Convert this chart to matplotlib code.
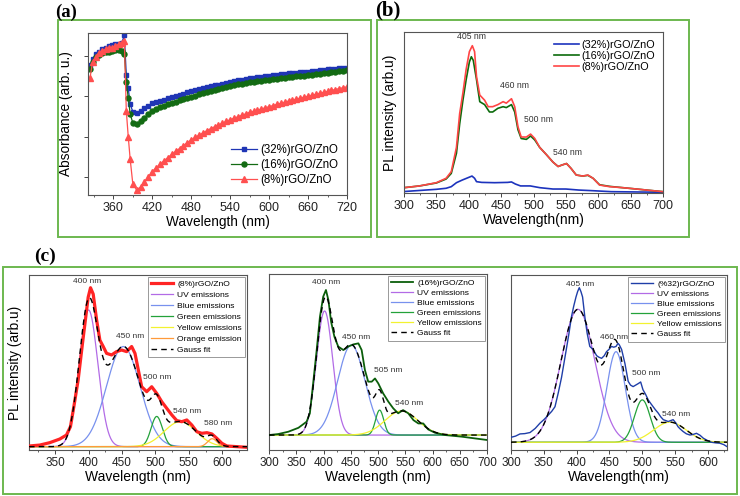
import numpy as np
import matplotlib
matplotlib.use('Agg')
import matplotlib.pyplot as plt
from matplotlib.patches import Rectangle
from matplotlib.ticker import MultipleLocator
from matplotlib.lines import Line2D

plt.rcParams['font.family'] = ['Liberation Sans', 'DejaVu Sans']

# ---------------- data: panel (a) absorbance ----------------
wl_a = [324, 328, 333, 338, 343, 348, 353, 358, 363, 368, 373, 377, 380, 383, 386, 390,
        396, 402, 408, 414, 420, 426, 432, 438, 444, 450, 456, 462, 468, 474, 480,
        486, 492, 498, 504, 510, 516, 522, 528, 534, 540, 546, 552, 558, 564, 570,
        576, 582, 588, 594, 600, 606, 612, 618, 624, 630, 636, 642, 648, 654, 660,
        666, 672, 678, 684, 690, 696, 702, 708, 714, 720]
abs_32 = [.80, .84, .87, .885, .90, .91, .92, .925, .93, .935, .94, .985, .74, .66, .56, .515,
          .505, .520, .535, .550, .565, .573, .581, .589, .597, .605, .612, .619, .626, .633, .640,
          .646, .652, .658, .664, .670, .676, .682, .688, .694, .700, .704, .708, .712, .716, .720,
          .723, .726, .729, .732, .735, .738, .741, .744, .747, .750, .752, .755, .757, .760, .762,
          .765, .767, .770, .772, .775, .777, .780, .782, .785, .787]
abs_16 = [.78, .82, .85, .865, .875, .88, .885, .89, .895, .895, .89, .87, .70, .60, .50, .445,
          .440, .455, .475, .497, .520, .531, .542, .552, .561, .570, .577, .584, .591, .598, .605,
          .613, .621, .629, .637, .645, .651, .657, .663, .669, .675, .679, .683, .687, .691, .695,
          .698, .701, .704, .707, .710, .713, .717, .720, .724, .727, .730, .732, .735, .737, .740,
          .743, .746, .749, .752, .755, .758, .761, .764, .767, .770]
abs_8 = [.72, .82, .85, .875, .89, .90, .905, .91, .92, .93, .94, .95, .52, .36, .22, .07,
         .030, .050, .080, .112, .145, .168, .190, .211, .231, .250, .269, .287, .305, .323, .340,
         .355, .369, .383, .397, .410, .421, .432, .443, .454, .465, .474, .483, .492, .501, .510,
         .517, .524, .531, .538, .545, .552, .559, .566, .573, .580, .586, .592, .598, .604, .610,
         .616, .622, .628, .634, .640, .646, .651, .657, .662, .668]
labels_a = ['(32%)rGO/ZnO', '(16%)rGO/ZnO', '(8%)rGO/ZnO']

# ---------------- data: panel (b) PL ----------------
wl_b8 = [300, 324, 350, 365, 373, 381, 386, 391, 396, 401, 405.5, 409, 412, 417, 424.5, 430, 437,
         445, 453, 458, 466, 471, 476, 481, 489, 495.5, 502, 509.5, 520, 530, 538, 544, 551,
         558, 566, 576, 584, 592, 602, 617.5, 638, 659, 679, 700]
pl_b8 = [.036, .048, .07, .10, .145, .31, .54, .68, .84, .96, 1.0, .96, .79, .665, .63, .586, .586,
         .60, .62, .61, .64, .586, .45, .38, .38, .40, .37, .31, .26, .21, .18, .19, .20,
         .167, .122, .115, .122, .10, .054, .043, .036, .027, .018, .009]
wl_b16 = [300, 324, 350, 365, 373, 381, 386, 391, 396, 401, 404, 407, 412, 417, 424.5, 432, 437,
          445, 453, 458, 466, 471, 476, 481, 489, 495.5, 502, 509.5, 520, 530, 538, 544, 551,
          558, 566, 576, 584, 592, 602, 617.5, 638, 659, 679, 700]
pl_b16 = [.036, .048, .068, .095, .133, .27, .47, .63, .77, .89, .925, .90, .77, .62, .60, .55, .55,
          .575, .586, .58, .60, .55, .43, .37, .364, .387, .36, .31, .26, .21, .18, .19, .20,
          .167, .122, .115, .12, .10, .056, .045, .036, .027, .018, .009]
wl_b32 = [300, 350, 365, 373, 381, 390, 400, 405, 409, 412, 420, 440, 460, 466, 472, 480, 495,
          510, 530, 550, 570, 590, 620, 660, 700]
pl_b32 = [.010, .025, .032, .043, .07, .088, .106, .115, .10, .077, .072, .07, .072, .075, .061,
          .048, .048, .036, .027, .027, .02, .016, .009, .007, .005]
labels_b = ['(32%)rGO/ZnO', '(16%)rGO/ZnO', '(8%)rGO/ZnO']
peaks_b = [405, 460, 500, 540]
peak_pos_b = [(405, 1.03), (471, .70), (507, .47), (553, .245)]

# ---------------- data: panel (c) deconvolution ----------------
wl_c1 = [311, 327, 342, 357, 367, 373, 378, 384.5, 391, 396, 399.5, 403, 407, 412, 417, 422, 427,
         434.5, 442, 449.5, 457, 464.5, 469.5, 474.5, 479.5, 487, 494.5, 502, 509.5, 517, 524.5,
         532, 539.5, 547, 554.5, 562, 569.5, 577, 584.5, 592, 599.5, 607, 637]
pl_c1 = [.004, .01, .025, .048, .073, .126, .25, .42, .65, .82, .94, 1.0, .96, .80, .67, .63, .587,
         .577, .598, .608, .598, .63, .587, .482, .377, .346, .377, .335, .283, .241, .20,
         .164, .157, .168, .136, .094, .084, .088, .08, .052, .021, .004, -.004]
# gaussian components: centre (nm), sigma (nm), height
comp_c1 = {'UV emissions': (400, 14, .86), 'Blue emissions': (452, 25, .63),
           'Green emissions': (502, 8.5, .19), 'Yellow emissions': (537, 24, .157),
           'Orange emission': (585, 7, .05)}
peaks_c1 = ['400 nm', '450 nm', '500 nm', '540 nm', '580 nm']

wl_c2 = [300, 317, 335.5, 354, 369, 375, 381, 387.5, 393.5, 399.5, 404.5, 409, 414, 420, 427,
         436.5, 445.5, 455, 464, 470, 476, 482, 488.5, 494.5, 500.5, 509.5, 519, 528, 537, 546,
         555.5, 565, 574, 583, 592, 604.5, 623, 653.5, 700]
pl_c2 = [0.0, .007, .023, .05, .092, .15, .356, .586, .816, .954, 1.0, .93, .78, .678, .61,
         .586, .61, .625, .632, .586, .448, .368, .368, .39, .356, .287, .23, .184, .15, .172,
         .15, .103, .08, .08, .039, .016, 0.0, -.011, -.034]
comp_c2 = {'UV emissions': (402, 15, .855), 'Blue emissions': (451, 25, .62),
           'Green emissions': (503, 7.5, .172), 'Yellow emissions': (543, 30, .166)}
peaks_c2 = ['400 nm', '450 nm', '505 nm', '540 nm']

wl_c3 = [300, 307, 313.7, 321, 329, 337, 344, 351, 357, 362, 367, 372, 377, 381, 385, 388.5, 392,
         395.5, 399, 401.5, 404, 406.5, 409, 412.5, 416, 420, 425, 430.5, 434, 438, 442, 445.5,
         449, 453, 456.5, 460, 463, 465, 468.5, 473.5, 478.5, 482, 486, 490, 494, 497.5, 501,
         505, 509, 513, 516.5, 520, 524, 528, 532, 536, 539.5, 543, 547, 551, 554.5, 558, 562,
         567, 572.5, 577, 582.5, 588, 593, 599, 605.5, 612, 618, 624, 629]
pl_c3 = [.032, .04, .054, .056, .063, .09, .123, .15, .177, .20, .23, .32, .42, .52, .62, .71, .81,
         .88, .94, .975, 1.0, .975, .94, .81, .705, .62, .60, .56, .55, .543, .56, .586,
         .60, .62, .615, .62, .64, .63, .60, .51, .394, .37, .36, .37, .38, .39, .34,
         .31, .274, .25, .23, .21, .19, .165, .146, .14, .134, .14, .146, .125, .10, .085, .07,
         .055, .047, .05, .058, .045, .026, .012, 0.0, -.004, -.006, -.015, -.028]
comp_c3 = {'UV emissions': (402, 26, .86), 'Blue emissions': (460, 14, .586),
           'Green emissions': (500, 12, .274), 'Yellow emissions': (542, 25, .13)}
peaks_c3 = ['405 nm', '460 nm', '500 nm', '540 nm']

comp_colors = {'UV emissions': '#b26be6', 'Blue emissions': '#7891ee',
               'Green emissions': '#23a23a', 'Yellow emissions': '#f2f230',
               'Orange emission': '#ff9a3a'}

# ---------------- figure ----------------
W, H = 740, 496
fig = plt.figure(figsize=(W / 100, H / 100), dpi=100)


def place(l, t, r, b):
    return fig.add_axes([l / W, 1 - b / H, (r - l) / W, (b - t) / H])


def style(ax, fs=9):
    for s in ax.spines.values():
        s.set_color('#555555')
        s.set_linewidth(0.8)
    ax.tick_params(axis='both', which='major', direction='out', length=3, width=0.7,
                   colors='#444444', labelsize=fs, labelcolor='#222222', pad=2)
    ax.tick_params(axis='both', which='minor', direction='out', length=1.6, width=0.6,
                   colors='#444444')


for (l, t, r, b) in [(58, 20, 371, 237), (377, 20, 689, 237), (3, 267, 737, 494)]:
    fig.add_artist(Rectangle((l / W, 1 - b / H), (r - l) / W, (b - t) / H,
                             transform=fig.transFigure, fill=False,
                             ec='#6cb84f', lw=1.4))

# panel labels
fig.text(66 / W, 1 - 12 / H, '(a)', family='Liberation Serif', weight='bold',
         fontsize=13.5, ha='center', va='center')
fig.text(388 / W, 1 - 10 / H, '(b)', family='Liberation Serif', weight='bold',
         fontsize=15, ha='center', va='center')
fig.text(45 / W, 1 - 256 / H, '(c)', family='Liberation Serif', weight='bold',
         fontsize=14, ha='center', va='center')

# ----- (a)
ax = place(88, 33, 347, 195)
style(ax)
ax.plot(wl_a, abs_32, '-s', color='#1f35b5', ms=3.2, lw=0.9, label=labels_a[0])
ax.plot(wl_a, abs_16, '-o', color='#136b13', ms=3.6, lw=0.9, label=labels_a[1])
ax.plot(wl_a, abs_8, '-^', color='#ff4f4f', ms=4, lw=0.9, label=labels_a[2])
ax.set_xlim(321, 720)
ax.set_ylim(0, 1)
ax.xaxis.set_major_locator(MultipleLocator(60))
ax.xaxis.set_minor_locator(MultipleLocator(30))
ax.set_yticks([0.11, 0.36, 0.61, 0.86])
ax.set_yticklabels([])
ax.set_xlabel('Wavelength (nm)', fontsize=9.8, labelpad=1)
ax.set_ylabel('Absorbance (arb. u.)', fontsize=9.8, labelpad=6)
ax.legend(loc='lower right', bbox_to_anchor=(1.0, 0.0), frameon=False, fontsize=8.3,
          handlelength=2.3, handletextpad=0.2, labelspacing=0.25, borderaxespad=0.4)

# ----- (b)
ax = place(404, 32, 663, 193)
style(ax)
ax.plot(wl_b32, pl_b32, color='#1c33bd', lw=1.2, label=labels_b[0])
ax.plot(wl_b16, pl_b16, color='#0c6b0c', lw=1.2, label=labels_b[1])
ax.plot(wl_b8, pl_b8, color='#ff4545', lw=1.2, label=labels_b[2])
ax.set_xlim(300, 700)
ax.set_ylim(0, 1.093)
ax.xaxis.set_major_locator(MultipleLocator(50))
ax.xaxis.set_minor_locator(MultipleLocator(25))
ax.set_yticks([])
for p, (x, y) in zip(peaks_b, peak_pos_b):
    ax.text(x, y, f'{p} nm', fontsize=6.2, ha='center', va='bottom', color='#333333')
ax.set_xlabel('Wavelength(nm)', fontsize=10, labelpad=1)
ax.set_ylabel('PL intensity (arb.u)', fontsize=10, labelpad=5)
ax.legend(loc='upper right', bbox_to_anchor=(1.0, 1.0), frameon=False, fontsize=7.8,
          handlelength=2.3, handletextpad=0.3, labelspacing=0.12, borderaxespad=0.3)


def gauss(x, c, s, h):
    return h * np.exp(-0.5 * ((x - c) / s) ** 2)


def panel_c(box, xlim, ylim, ticks, wl, pl, comps, spec_label, spec_color, spec_lw,
            peak_labels, peak_xy, xlabel, ylabel=None, lspace=0.25):
    ax = place(*box)
    style(ax, fs=8.5)
    xs = np.linspace(xlim[0], xlim[1], 500)
    total = np.zeros_like(xs)
    handles = []
    for name, (c, s, h) in comps.items():
        g = gauss(xs, c, s, h)
        total += g
        ax.plot(xs, g, color=comp_colors[name], lw=0.9, zorder=2)
        handles.append(Line2D([], [], color=comp_colors[name], lw=0.9, label=name))
    ax.plot(wl, pl, color=spec_color, lw=spec_lw, zorder=3)
    ax.plot(xs, total, color='black', lw=1.0, ls=(0, (4, 3)), zorder=4)
    handles = ([Line2D([], [], color=spec_color, lw=spec_lw, label=spec_label)] + handles +
               [Line2D([], [], color='black', lw=1.0, ls=(0, (4, 3)), label='Gauss fit')])
    ax.set_xlim(*xlim)
    ax.set_ylim(*ylim)
    ax.set_xticks(ticks)
    ax.xaxis.set_minor_locator(MultipleLocator(25))
    ax.set_yticks([])
    for txt, (x, y) in zip(peak_labels, peak_xy):
        ax.text(x, y, txt, fontsize=6, ha='center', va='bottom', color='#333333', zorder=5)
    ax.set_xlabel(xlabel, fontsize=10, labelpad=1)
    if ylabel:
        ax.set_ylabel(ylabel, fontsize=9.8, labelpad=5)
    leg = ax.legend(handles=handles, loc='upper right', bbox_to_anchor=(1.0, 1.0),
                    fontsize=6.1, handlelength=2.6, handletextpad=0.5, labelspacing=lspace,
                    borderaxespad=0.2, borderpad=0.4, fancybox=False, framealpha=1)
    leg.get_frame().set_edgecolor('#999999')
    leg.get_frame().set_linewidth(0.7)
    return ax


panel_c((29, 275, 247, 450), (311, 637), (-0.021, 1.08), [350, 400, 450, 500, 550, 600],
        wl_c1, pl_c1, comp_c1, '(8%)rGO/ZnO', '#ff2424', 2.3,
        peaks_c1, [(398, 1.02), (462, .67), (502, .41), (547, .20), (594, .125)],
        'Wavelength (nm)', 'PL intensity (arb.u)', lspace=0.36)
panel_c((269, 274, 487, 450), (300, 700), (-0.103, 1.11), [300, 350, 400, 450, 500, 550, 600, 650, 700],
        wl_c2, pl_c2, comp_c2, '(16%)rGO/ZnO', '#0b5e0b', 1.3,
        peaks_c2, [(405, 1.03), (459, .65), (519, .42), (558, .19)],
        'Wavelength (nm)')
panel_c((511, 275, 727, 450), (300, 629), (-0.05, 1.082), [300, 350, 400, 450, 500, 550, 600],
        wl_c3, pl_c3, comp_c3, '(%32)rGO/ZnO', '#1f3ea8', 1.0,
        peaks_c3, [(405, 1.0), (457, .655), (506, .42), (552, .16)],
        'Wavelength(nm)')

fig.savefig('out.png', dpi=100)
